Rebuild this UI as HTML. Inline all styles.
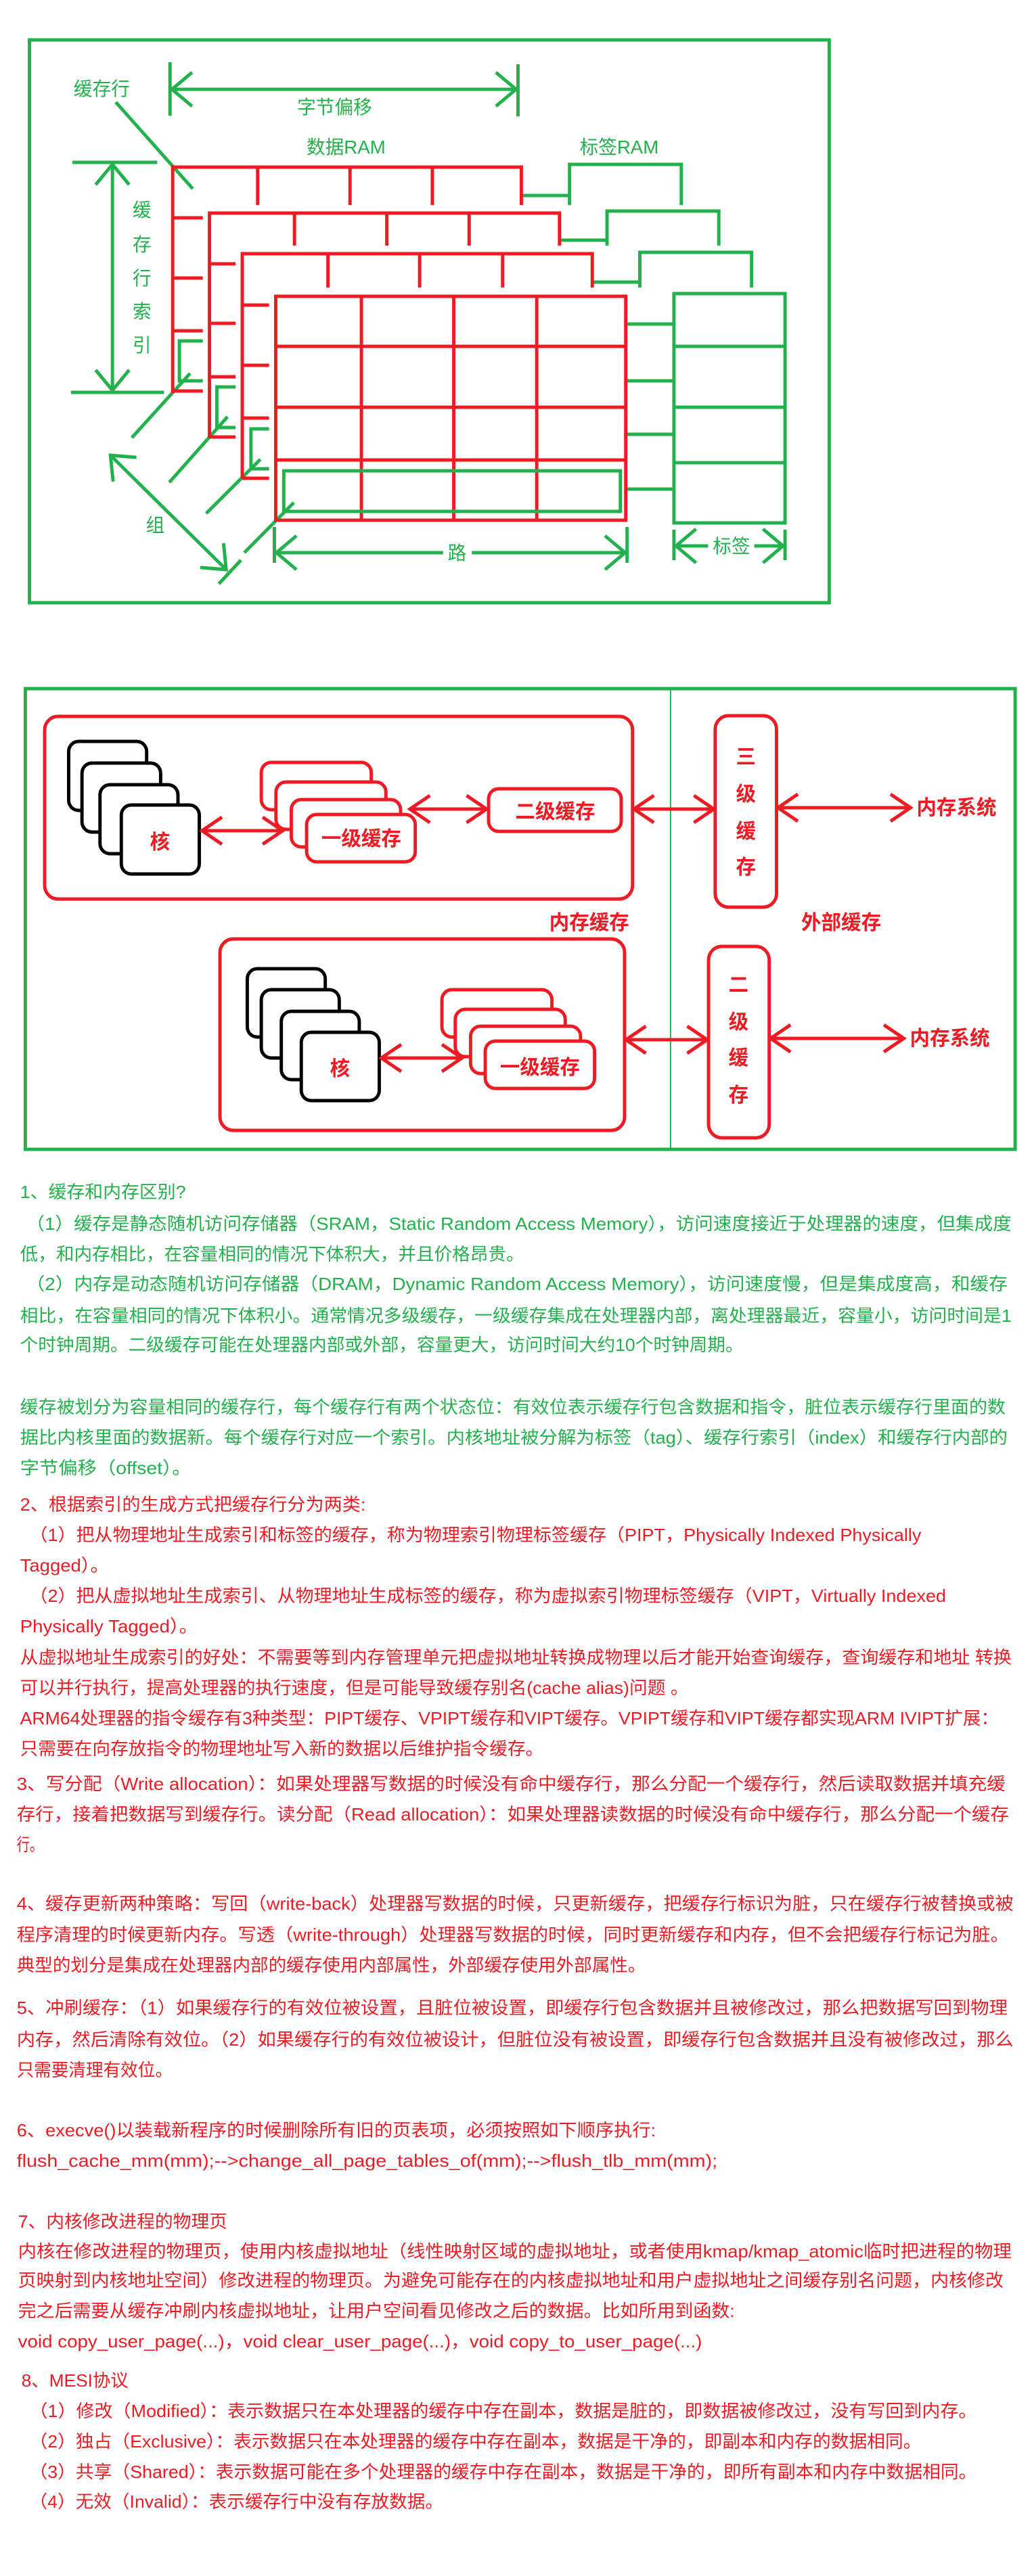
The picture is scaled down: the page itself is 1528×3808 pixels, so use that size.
<!DOCTYPE html>
<html><head><meta charset="utf-8"><style>
html,body{margin:0;padding:0;background:#fff;}
body{width:1528px;height:3808px;position:relative;overflow:hidden;}
svg{position:absolute;left:0;top:0;}
text{font-family:"Liberation Sans","Noto Sans CJK SC",sans-serif;}
</style></head><body>
<svg width="1528" height="3808" viewBox="0 0 1528 3808" xmlns="http://www.w3.org/2000/svg">
<defs>
<marker id="g" markerUnits="userSpaceOnUse" markerWidth="80" markerHeight="80" viewBox="-40 -40 80 80" refX="0" refY="0" orient="auto-start-reverse" overflow="visible"><path d="M-30,-25 L0,0 L-30,25" fill="none" stroke="#22b14c" stroke-width="5"/></marker>
<marker id="r" markerUnits="userSpaceOnUse" markerWidth="80" markerHeight="80" viewBox="-40 -40 80 80" refX="0" refY="0" orient="auto-start-reverse" overflow="visible"><path d="M-30,-20 L0,0 L-30,20" fill="none" stroke="#ed1c24" stroke-width="5"/></marker>
</defs>

<!-- ===== Diagram 1 ===== -->
<g transform="scale(0.989,1)">
<g fill="none" stroke-width="5">
<rect x="44" y="59" width="1195" height="832" stroke="#22b14c"/>
<g stroke="#22b14c">
<line x1="254" y1="92" x2="254" y2="171"/><line x1="774" y1="95" x2="774" y2="172"/>
<line x1="257" y1="132" x2="771" y2="132" marker-start="url(#g)" marker-end="url(#g)"/>
<line x1="173" y1="151" x2="288" y2="279"/>
<line x1="108" y1="240" x2="235" y2="240"/><line x1="106" y1="580" x2="245" y2="580"/>
<line x1="168" y1="243" x2="168" y2="577" marker-start="url(#g)" marker-end="url(#g)"/>
<line x1="779" y1="289" x2="851" y2="289"/><path d="M851,303 V243 H1018 V303"/>
<line x1="836" y1="355" x2="907" y2="355"/><path d="M907,363 V312 H1074 V363"/>
<line x1="885" y1="417" x2="956" y2="417"/><path d="M956,425 V373 H1123 V425"/>
<rect x="1007" y="434" width="166" height="339"/>
<line x1="1007" y1="512" x2="1173" y2="512"/><line x1="1007" y1="602" x2="1173" y2="602"/><line x1="1007" y1="684" x2="1173" y2="684"/>
<line x1="935" y1="479" x2="1007" y2="479"/><line x1="935" y1="563" x2="1007" y2="563"/><line x1="935" y1="642" x2="1007" y2="642"/><line x1="935" y1="723" x2="1007" y2="723"/>
<path d="M303,504 H268 V563 H303"/><path d="M352,572 H324 V632 H352"/><path d="M402,634 H375 V693 H402"/>
<line x1="284" y1="552" x2="197" y2="647"/><line x1="340" y1="616" x2="253" y2="713"/><line x1="389" y1="679" x2="308" y2="759"/><line x1="439" y1="743" x2="365" y2="817"/><line x1="360" y1="828" x2="327" y2="863"/>
<line x1="165" y1="673" x2="338" y2="842" marker-start="url(#g)" marker-end="url(#g)"/>
<line x1="410" y1="779" x2="410" y2="832"/><line x1="937" y1="779" x2="937" y2="832"/>
<line x1="413" y1="817" x2="662" y2="817" marker-start="url(#g)"/><line x1="705" y1="817" x2="934" y2="817" marker-end="url(#g)"/>
<line x1="1007" y1="783" x2="1007" y2="828"/><line x1="1173" y1="783" x2="1173" y2="828"/>
<line x1="1010" y1="807" x2="1058" y2="807" marker-start="url(#g)"/><line x1="1127" y1="807" x2="1170" y2="807" marker-end="url(#g)"/>
</g>
<g stroke="#ed1c24">
<path d="M258,581 V247 H779 V303"/>
<line x1="385" y1="247" x2="385" y2="303"/><line x1="523" y1="247" x2="523" y2="303"/><line x1="646" y1="247" x2="646" y2="303"/>
<line x1="258" y1="322" x2="303" y2="322"/><line x1="258" y1="411" x2="303" y2="411"/><line x1="258" y1="489" x2="303" y2="489"/><line x1="258" y1="578" x2="303" y2="578"/>
<path d="M313,647 V315 H836 V363"/>
<line x1="440" y1="315" x2="440" y2="363"/><line x1="578" y1="315" x2="578" y2="363"/><line x1="701" y1="315" x2="701" y2="363"/>
<line x1="313" y1="390" x2="352" y2="390"/><line x1="313" y1="478" x2="352" y2="478"/><line x1="313" y1="557" x2="352" y2="557"/><line x1="313" y1="646" x2="352" y2="646"/>
<path d="M362,707 V375 H885 V425"/>
<line x1="490" y1="375" x2="490" y2="425"/><line x1="627" y1="375" x2="627" y2="425"/><line x1="751" y1="375" x2="751" y2="425"/>
<line x1="362" y1="451" x2="402" y2="451"/><line x1="362" y1="540" x2="402" y2="540"/><line x1="362" y1="618" x2="402" y2="618"/><line x1="362" y1="707" x2="402" y2="707"/>
<rect x="412" y="438" width="523" height="331"/>
<line x1="540" y1="438" x2="540" y2="769"/><line x1="678" y1="438" x2="678" y2="769"/><line x1="802" y1="438" x2="802" y2="769"/>
<line x1="412" y1="512" x2="935" y2="512"/><line x1="412" y1="602" x2="935" y2="602"/><line x1="412" y1="680" x2="935" y2="680"/>
</g>
<rect x="424" y="696" width="503" height="60" stroke="#22b14c"/>
</g>
<g fill="#22b14c" font-size="28">
<text x="110" y="141">缓存行</text>
<text x="444" y="168">字节偏移</text>
<text x="458" y="227">数据RAM</text>
<text x="866" y="227">标签RAM</text>
<text x="212" y="320" text-anchor="middle">缓</text>
<text x="212" y="371" text-anchor="middle">存</text>
<text x="212" y="421" text-anchor="middle">行</text>
<text x="212" y="470" text-anchor="middle">索</text>
<text x="212" y="520" text-anchor="middle">引</text>
<text x="232" y="786" text-anchor="middle">组</text>
<text x="683" y="827" text-anchor="middle">路</text>
<text x="1093" y="817" text-anchor="middle">标签</text>
</g>
</g>

<!-- ===== Diagram 2 ===== -->
<g transform="scale(0.985,1)">
<g fill="none" stroke-width="5">
<rect x="38" y="1018" width="1485" height="681" stroke="#22b14c"/>
<line x1="1006" y1="1018" x2="1006" y2="1699" stroke="#22b14c" stroke-width="2"/>
<g stroke="#ed1c24">
<rect x="67" y="1059" width="882" height="270" rx="20"/>
<rect x="330" y="1388" width="607" height="283" rx="20"/>
<rect x="1073" y="1058" width="92" height="283" rx="20"/>
<rect x="1063" y="1399" width="91" height="283" rx="20"/>
</g>
<g stroke="#000" fill="#fff">
<rect x="103" y="1096" width="117" height="102" rx="15"/>
<rect x="123" y="1128" width="118" height="102" rx="15"/>
<rect x="150" y="1160" width="117" height="102" rx="15"/>
<rect x="182" y="1190" width="117" height="102" rx="15"/>
<rect x="371" y="1432" width="117" height="101" rx="15"/>
<rect x="392" y="1463" width="117" height="101" rx="15"/>
<rect x="422" y="1495" width="117" height="101" rx="15"/>
<rect x="452" y="1526" width="117" height="101" rx="15"/>
</g>
<g stroke="#ed1c24" fill="#fff">
<rect x="392" y="1127" width="165" height="70" rx="15"/>
<rect x="414" y="1156" width="165" height="70" rx="15"/>
<rect x="437" y="1182" width="164" height="70" rx="15"/>
<rect x="460" y="1204" width="163" height="70" rx="15"/>
<rect x="733" y="1166" width="199" height="63" rx="15"/>
<rect x="663" y="1463" width="165" height="70" rx="15"/>
<rect x="683" y="1492" width="165" height="70" rx="15"/>
<rect x="706" y="1517" width="165" height="70" rx="15"/>
<rect x="728" y="1539" width="164" height="70" rx="15"/>
</g>
<g stroke="#ed1c24">
<line x1="303" y1="1228" x2="424" y2="1228" marker-start="url(#r)" marker-end="url(#r)"/>
<line x1="615" y1="1196" x2="730" y2="1196" marker-start="url(#r)" marker-end="url(#r)"/>
<line x1="951" y1="1196" x2="1071" y2="1196" marker-start="url(#r)" marker-end="url(#r)"/>
<line x1="1167" y1="1194" x2="1366" y2="1194" marker-start="url(#r)" marker-end="url(#r)"/>
<line x1="572" y1="1564" x2="693" y2="1564" marker-start="url(#r)" marker-end="url(#r)"/>
<line x1="939" y1="1537" x2="1061" y2="1537" marker-start="url(#r)" marker-end="url(#r)"/>
<line x1="1156" y1="1535" x2="1356" y2="1535" marker-start="url(#r)" marker-end="url(#r)"/>
</g>
</g>
<g fill="#ed1c24" font-size="30" font-weight="bold" text-anchor="middle">
<text x="240" y="1255">核</text>
<text x="542" y="1250">一级缓存</text>
<text x="833" y="1210">二级缓存</text>
<text x="1119" y="1129">三</text><text x="1119" y="1184">级</text><text x="1119" y="1239">缓</text><text x="1119" y="1292">存</text>
<text x="1435" y="1204">内存系统</text>
<text x="884" y="1374">内存缓存</text>
<text x="1262" y="1374">外部缓存</text>
<text x="510" y="1590">核</text>
<text x="810" y="1588">一级缓存</text>
<text x="1108" y="1466">二</text><text x="1108" y="1521">级</text><text x="1108" y="1574">缓</text><text x="1108" y="1629">存</text>
<text x="1425" y="1545">内存系统</text>
</g>
</g>

<!-- ===== Text ===== -->
<g transform="scale(0.988,1)">
<g font-size="26" fill="#22b14c">
<text x="30" y="1771" textLength="248" lengthAdjust="spacingAndGlyphs">1、缓存和内存区别?</text>
<text x="39" y="1818" textLength="1474" lengthAdjust="spacingAndGlyphs">（1）缓存是静态随机访问存储器（SRAM，Static Random Access Memory），访问速度接近于处理器的速度，但集成度</text>
<text x="30" y="1863" textLength="754" lengthAdjust="spacingAndGlyphs">低，和内存相比，在容量相同的情况下体积大，并且价格昂贵。</text>
<text x="39" y="1907" textLength="1468" lengthAdjust="spacingAndGlyphs">（2）内存是动态随机访问存储器（DRAM，Dynamic Random Access Memory），访问速度慢，但是集成度高，和缓存</text>
<text x="30" y="1954" textLength="1483" lengthAdjust="spacingAndGlyphs">相比，在容量相同的情况下体积小。通常情况多级缓存，一级缓存集成在处理器内部，离处理器最近，容量小，访问时间是1</text>
<text x="30" y="1997" textLength="1082" lengthAdjust="spacingAndGlyphs">个时钟周期。二级缓存可能在处理器内部或外部，容量更大，访问时间大约10个时钟周期。</text>
<text x="30" y="2089" textLength="1474" lengthAdjust="spacingAndGlyphs">缓存被划分为容量相同的缓存行，每个缓存行有两个状态位：有效位表示缓存行包含数据和指令，脏位表示缓存行里面的数</text>
<text x="30" y="2134" textLength="1477" lengthAdjust="spacingAndGlyphs">据比内核里面的数据新。每个缓存行对应一个索引。内核地址被分解为标签（tag）、缓存行索引（index）和缓存行内部的</text>
<text x="30" y="2179" textLength="256" lengthAdjust="spacingAndGlyphs">字节偏移（offset）。</text>
</g>
<g font-size="26" fill="#ed1c24">
<text x="30" y="2233" textLength="517" lengthAdjust="spacingAndGlyphs">2、根据索引的生成方式把缓存行分为两类:</text>
<text x="44" y="2278" textLength="1334" lengthAdjust="spacingAndGlyphs">（1）把从物理地址生成索引和标签的缓存，称为物理索引物理标签缓存（PIPT，Physically Indexed Physically</text>
<text x="30" y="2323" textLength="133" lengthAdjust="spacingAndGlyphs">Tagged）。</text>
<text x="44" y="2368" textLength="1371" lengthAdjust="spacingAndGlyphs">（2）把从虚拟地址生成索引、从物理地址生成标签的缓存，称为虚拟索引物理标签缓存（VIPT，Virtually Indexed</text>
<text x="30" y="2413" textLength="266" lengthAdjust="spacingAndGlyphs">Physically Tagged）。</text>
<text x="30" y="2459" textLength="1483" lengthAdjust="spacingAndGlyphs">从虚拟地址生成索引的好处：不需要等到内存管理单元把虚拟地址转换成物理以后才能开始查询缓存，查询缓存和地址 转换</text>
<text x="30" y="2504" textLength="1000" lengthAdjust="spacingAndGlyphs">可以并行执行，提高处理器的执行速度，但是可能导致缓存别名(cache alias)问题 。</text>
<text x="30" y="2549" textLength="1464" lengthAdjust="spacingAndGlyphs">ARM64处理器的指令缓存有3种类型：PIPT缓存、VPIPT缓存和VIPT缓存。VPIPT缓存和VIPT缓存都实现ARM IVIPT扩展：</text>
<text x="30" y="2594" textLength="783" lengthAdjust="spacingAndGlyphs">只需要在向存放指令的物理地址写入新的数据以后维护指令缓存。</text>
<text x="25" y="2646" textLength="1479" lengthAdjust="spacingAndGlyphs">3、写分配（Write allocation）：如果处理器写数据的时候没有命中缓存行，那么分配一个缓存行，然后读取数据并填充缓</text>
<text x="25" y="2691" textLength="1484" lengthAdjust="spacingAndGlyphs">存行，接着把数据写到缓存行。读分配（Read allocation）：如果处理器读数据的时候没有命中缓存行，那么分配一个缓存</text>
<text x="25" y="2736" textLength="39" lengthAdjust="spacingAndGlyphs">行。</text>
<text x="25" y="2823" textLength="1491" lengthAdjust="spacingAndGlyphs">4、缓存更新两种策略：写回（write-back）处理器写数据的时候，只更新缓存，把缓存行标识为脏，只在缓存行被替换或被</text>
<text x="25" y="2869" textLength="1484" lengthAdjust="spacingAndGlyphs">程序清理的时候更新内存。写透（write-through）处理器写数据的时候，同时更新缓存和内存，但不会把缓存行标记为脏。</text>
<text x="25" y="2914" textLength="941" lengthAdjust="spacingAndGlyphs">典型的划分是集成在处理器内部的缓存使用内部属性，外部缓存使用外部属性。</text>
<text x="25" y="2977" textLength="1482" lengthAdjust="spacingAndGlyphs">5、冲刷缓存：（1）如果缓存行的有效位被设置，且脏位被设置，即缓存行包含数据并且被修改过，那么把数据写回到物理</text>
<text x="25" y="3024" textLength="1491" lengthAdjust="spacingAndGlyphs">内存，然后清除有效位。（2）如果缓存行的有效位被设计，但脏位没有被设置，即缓存行包含数据并且没有被修改过，那么</text>
<text x="25" y="3069" textLength="233" lengthAdjust="spacingAndGlyphs">只需要清理有效位。</text>
<text x="25" y="3158" textLength="956" lengthAdjust="spacingAndGlyphs">6、execve()以装载新程序的时候删除所有旧的页表项，必须按照如下顺序执行:</text>
<text x="25" y="3203" textLength="1048" lengthAdjust="spacingAndGlyphs">flush_cache_mm(mm);--&gt;change_all_page_tables_of(mm);--&gt;flush_tlb_mm(mm);</text>
<text x="27" y="3293" textLength="313" lengthAdjust="spacingAndGlyphs">7、内核修改进程的物理页</text>
<text x="27" y="3337" textLength="1486" lengthAdjust="spacingAndGlyphs">内核在修改进程的物理页，使用内核虚拟地址（线性映射区域的虚拟地址，或者使用kmap/kmap_atomic临时把进程的物理</text>
<text x="27" y="3380" textLength="1474" lengthAdjust="spacingAndGlyphs">页映射到内核地址空间）修改进程的物理页。为避免可能存在的内核虚拟地址和用户虚拟地址之间缓存别名问题，内核修改</text>
<text x="27" y="3425" textLength="1072" lengthAdjust="spacingAndGlyphs">完之后需要从缓存冲刷内核虚拟地址，让用户空间看见修改之后的数据。比如所用到函数:</text>
<text x="27" y="3470" textLength="1023" lengthAdjust="spacingAndGlyphs">void copy_user_page(...)，void clear_user_page(...)，void copy_to_user_page(...)</text>
<text x="32" y="3528" textLength="160" lengthAdjust="spacingAndGlyphs">8、MESI协议</text>
<text x="44" y="3573" textLength="1417" lengthAdjust="spacingAndGlyphs">（1）修改（Modified）：表示数据只在本处理器的缓存中存在副本，数据是脏的，即数据被修改过，没有写回到内存。</text>
<text x="44" y="3618" textLength="1334" lengthAdjust="spacingAndGlyphs">（2）独占（Exclusive）：表示数据只在本处理器的缓存中存在副本，数据是干净的，即副本和内存的数据相同。</text>
<text x="44" y="3663" textLength="1417" lengthAdjust="spacingAndGlyphs">（3）共享（Shared）：表示数据可能在多个处理器的缓存中存在副本，数据是干净的，即所有副本和内存中数据相同。</text>
<text x="44" y="3707" textLength="619" lengthAdjust="spacingAndGlyphs">（4）无效（Invalid）：表示缓存行中没有存放数据。</text>
</g>
</g>
</svg>
</body></html>
